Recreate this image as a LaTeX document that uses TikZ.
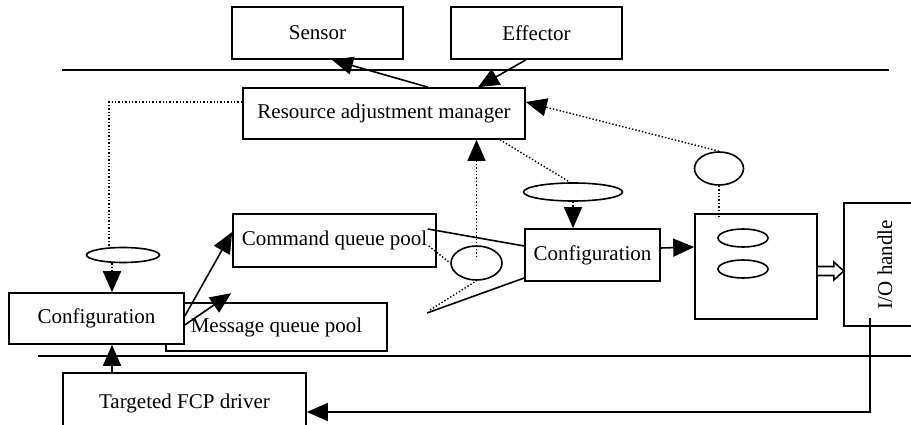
\documentclass[tikz,border=0pt]{standalone}
\usepackage{fontspec}
\setmainfont{Liberation Serif}
\usetikzlibrary{arrows.meta, calc, shapes.geometric}

\begin{document}
\begin{tikzpicture}[x=1pt, y=-1pt,
	>={Triangle[length=21pt, width=18pt]},
	box/.style={draw, line width=1.6pt, fill=white, inner sep=0pt,
		font=\fontsize{21}{25}\selectfont},
	oval/.style={draw, ellipse, line width=1.6pt, inner sep=0pt, fill=white},
	arr/.style={->, line width=1.6pt},
	dotarr/.style={->, dotted, line width=1.4pt},
	dotline/.style={dotted, line width=1.4pt}]

	\fill[white] (0,0) rectangle (911,425);
	\useasboundingbox (0,0) rectangle (911,425);

	% layer lines
	\draw[line width=1.6pt] (62,70) -- (889,70);
	\draw[line width=1.6pt] (38,356) -- (911,356);

	\node[box, minimum width=171pt, minimum height=52pt] (sensor) at (317.5,33) {Sensor};
	\node[box, minimum width=171pt, minimum height=52pt] (effector) at (536.5,33) {Effector};
	\node[box, minimum width=282pt, minimum height=51pt] (ram) at (384,113.5) {Resource adjustment manager};
	\node[box, minimum width=221pt, minimum height=48pt] (msgq) at (276.5,327) {Message queue pool};
	\node[box, minimum width=175pt, minimum height=51pt] (cfgL) at (96.5,318.5) {Configuration};
	\node[box, minimum width=203pt, minimum height=53pt] (cmdq) at (334.5,240.5) {Command queue pool};
	\node[box, minimum width=135pt, minimum height=52pt] (cfgM) at (592.5,255) {Configuration};
	\node[box, minimum width=122pt, minimum height=105pt] (qbox) at (756,266.5) {};
	\node[box, minimum width=82pt, minimum height=123pt] (io) at (885,264.5) {\rotatebox{90}{I/O handle}};
	\node[box, minimum width=243pt, minimum height=60pt] (fcp) at (184.5,403) {Targeted FCP driver};

	\node[oval, minimum width=73pt, minimum height=15pt] (ellL) at (123,255) {};
	\node[oval, minimum width=99pt, minimum height=18pt] (ellM) at (573,192) {};
	\node[oval, minimum width=49pt, minimum height=33pt] (circR) at (719,168.5) {};
	\node[oval, minimum width=51pt, minimum height=34pt] (circC) at (476.5,263) {};
	\node[oval, minimum width=50pt, minimum height=18pt] (inA) at (743,238) {};
	\node[oval, minimum width=50pt, minimum height=18pt] (inB) at (743,269) {};

	% upper layer
	\draw[arr] ($(ram.north)+(44,0)$) -- ($(sensor.south)+(14.5,0)$);
	\draw[arr] ($(effector.south)+(-10.5,0)$) -- ($(ram.north)+(94,0)$);
	\draw[dotline] ($(ram.west)+(0,-11.5)$) -| ($(ellL.north)+(-14,0)$);
	\draw[dotarr] ($(ellL.south)+(-11,0)$) -- ($(cfgL.north)+(15.5,0)$);
	\draw[dotarr] ($(circC.center)+(0,-6)$) -- (circC.center |- ram.south);
	\draw[dotline] ($(ram.south)+(116,0)$) -- ($(ellM.north)+(-3,0)$);
	\draw[dotarr] (ellM.south) -- (ellM.south |- cfgM.north);
	\draw[dotarr] (circR.north) -- ($(ram.east)+(0,-11.5)$);
	\draw[dotline] (circR.south) -- ($(circR.south |- qbox.north)+(0,4)$);

	% queues
	\draw[arr] ($(cfgL.east)+(0,-2.5)$) -- ($(cmdq.west)+(0,-8.5)$);
	\draw[arr] ($(cfgL.east)+(0,6.5)$) -- ($(msgq.north west)+(66,-9)$);
	\draw[dotline] ($(cmdq.east)+(-8,5.5)$) -- (circC.west);
	\coordinate (tip) at (427,313);
	\draw[line width=1.6pt] ($(cmdq.east)+(-9,-11.5)$) -- ($(cfgM.west)+(0,-9)$);
	\draw[line width=1.6pt] ($(cfgM.west)+(0,23)$) -- (tip);
	\draw[dotline] ($(tip)+(3,-3)$) -- (circC.south);
	\draw[arr] ($(cfgM.east)+(0,-7)$) -- ($(qbox.west)+(0,-19.5)$);
	\draw[line width=1.6pt, fill=white] (qbox.east) -- ++(16,0) -- ++(0,-4.5) -- ++(10,9)
		-- ++(-10,9) -- ++(0,-4.5) -- ++(-16,0);

	% driver
	\draw[arr] ($(fcp.north)+(-72.5,0)$) -- ($(cfgL.south)+(15.5,0)$);
	\draw[arr] ($(io.south)+(-15,-9)$) |- ($(fcp.east)+(0,9)$);
\end{tikzpicture}
\end{document}
